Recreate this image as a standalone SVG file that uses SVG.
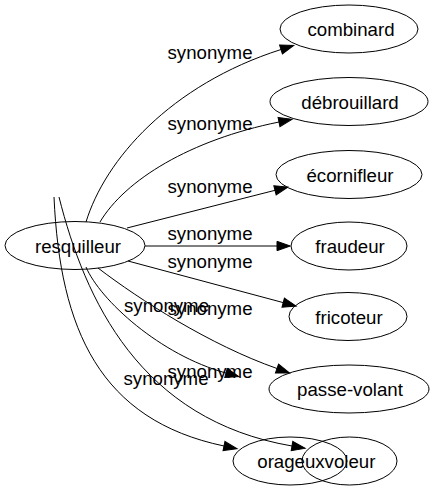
<svg xmlns="http://www.w3.org/2000/svg" width="433" height="491" viewBox="0 0 433 491">
<style>
.n ellipse{fill:none;stroke:#000;stroke-width:1}
text{font-family:"Liberation Sans",Arial,sans-serif;font-size:18.67px;fill:#000;text-anchor:middle}
.e path{fill:none;stroke:#000;stroke-width:1;marker-end:url(#ah)}
</style>
<defs>
<marker id="ah" markerUnits="userSpaceOnUse" markerWidth="14" markerHeight="10" refX="0" refY="4.7" orient="auto" overflow="visible">
<path d="M0,0 L13.3,4.7 L0,9.4 z" fill="#000" stroke="#000" stroke-width="1"/>
</marker>
</defs>
<rect width="433" height="491" fill="#fff"/>
<g id="edges" class="e">
<path d="M86,222 C105,160 170,85 281,49.5"/>
<path d="M100,222 C125,180 190,140 279,122"/>
<path d="M127,228 L275,190.3"/>
<path d="M145,246 L277,246"/>
<path d="M128,261 L283.2,302.6"/>
<path d="M98,268 C140,300 210,345 277,368.5"/>
<path d="M86,267 C100,300 160,355 226,373"/>
<path d="M59,197 C85,300 140,420 292,446"/>
<path d="M54,197 C60,330 100,420 224,446"/>
</g>
<g id="labels">
<text x="210" y="59">synonyme</text>
<text x="210" y="130">synonyme</text>
<text x="210" y="193">synonyme</text>
<text x="210" y="240">synonyme</text>
<text x="210" y="267.5">synonyme</text>
<text x="166.5" y="312">synonyme</text>
<text x="210" y="315">synonyme</text>
<text x="210" y="378">synonyme</text>
<text x="166" y="385">synonyme</text>
</g>
<g id="resquilleur" class="n"><ellipse cx="75" cy="245.5" rx="70" ry="24"/><text x="78" y="252.5">resquilleur</text></g>
<g id="combinard" class="n"><ellipse cx="349" cy="29" rx="69" ry="24"/><text x="351" y="36">combinard</text></g>
<g id="debrouillard" class="n"><ellipse cx="349" cy="101.5" rx="79" ry="24"/><text x="350" y="108.5">débrouillard</text></g>
<g id="ecornifleur" class="n"><ellipse cx="349" cy="174.5" rx="73" ry="24"/><text x="350" y="181.5">écornifleur</text></g>
<g id="fraudeur" class="n"><ellipse cx="349" cy="246" rx="58" ry="24"/><text x="350" y="253">fraudeur</text></g>
<g id="fricoteur" class="n"><ellipse cx="348" cy="316.5" rx="59" ry="24"/><text x="349" y="323.5">fricoteur</text></g>
<g id="passe-volant" class="n"><ellipse cx="349" cy="389" rx="80" ry="24"/><text x="350" y="396">passe-volant</text></g>
<g id="orageux" class="n"><ellipse cx="290" cy="461" rx="57" ry="24"/><text x="291" y="468">orageux</text></g>
<g id="voleur" class="n"><ellipse cx="349.5" cy="461" rx="47.5" ry="24"/><text x="350" y="468">voleur</text></g>
</svg>
